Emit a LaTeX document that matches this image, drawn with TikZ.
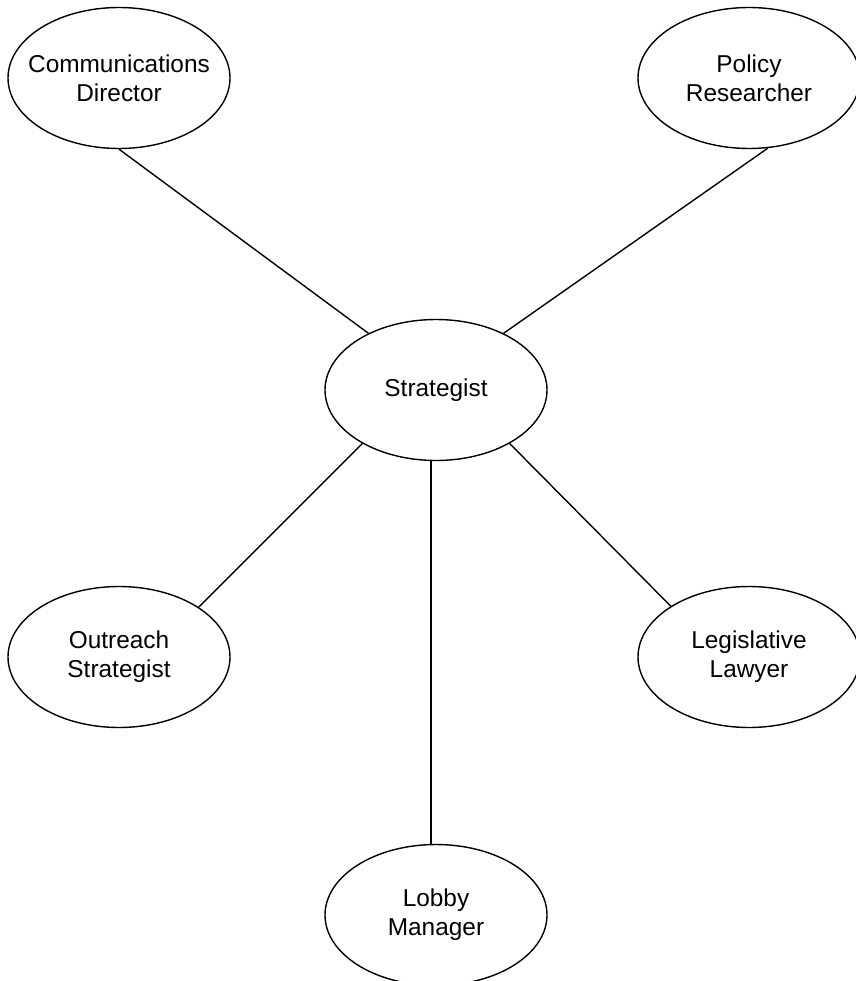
\documentclass[tikz,border=0pt]{standalone}
\usepackage{fontspec}
\setmainfont{Liberation Sans}
\usetikzlibrary{shapes.geometric}
\tikzset{
    role/.style={ellipse,draw,line width=1.4pt,minimum width=222pt,minimum height=141pt,inner xsep=-14pt,inner ysep=0pt,align=center,font=\fontsize{24.4}{29}\selectfont},
    link/.style={line width=1.4pt}
}
\begin{document}
\begin{tikzpicture}[x=1pt,y=-1pt]
    \useasboundingbox (0,0) rectangle (855,981);
    \node[role] (strat) at (436,390) {Strategist};
    \node[role] (comm) at (119,78) {Communications\\Director};
    \node[role] (policy) at (749,78) {Policy\\Researcher};
    \node[role] (outreach) at (119,657) {Outreach\\Strategist};
    \node[role] (legis) at (749,657) {Legislative\\Lawyer};
    \node[role] (lobby) at (436,915) {Lobby\\Manager};
    \draw[link] (comm.south) -- (strat.140);
    \draw[link] (policy.-75) -- (strat.40);
    \draw[link] (outreach.32) -- (strat.216);
    \draw[link] (legis.147) -- (strat.-36);
    \draw[link] (lobby.94) -- (strat.-94);
\end{tikzpicture}
\end{document}
